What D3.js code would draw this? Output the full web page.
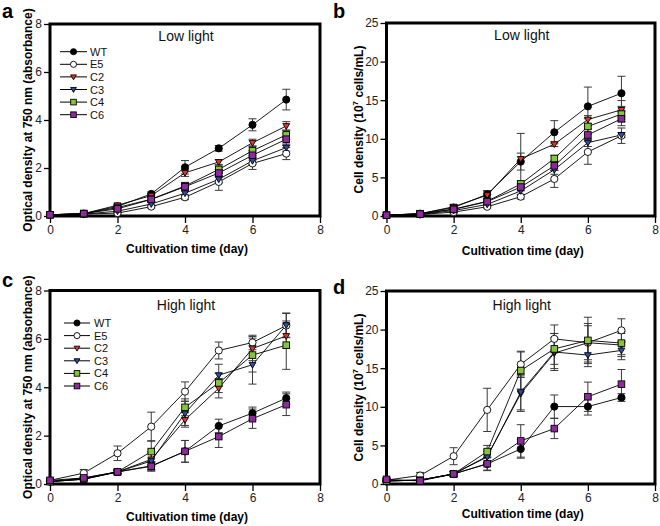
<!DOCTYPE html>
<html><head><meta charset="utf-8">
<script src="https://cdn.jsdelivr.net/npm/d3@7"></script>
<style>
body{margin:0;background:#fff;}
svg{display:block;font-family:"Liberation Sans",Arial,Helvetica,sans-serif;}
</style></head>
<body>
<svg id="chart" width="660" height="526"></svg>
<script>
// ---------- data ----------
const days = [0,1,2,3,4,5,6,7];
const seriesNames = ["WT","E5","C2","C3","C4","C6"];
const xTicks = [0,2,4,6,8];
const odTicks = [0,2,4,6,8];
const cellTicks = [0,5,10,15,20,25];

// a: Low light, optical density
const lowOD_WT = [0.05,0.1,0.4,0.92,2.03,2.82,3.8,4.85];
const lowOD_E5 = [0.05,0.08,0.12,0.39,0.78,1.42,2.19,2.6];
const lowOD_C2 = [0.05,0.1,0.45,0.85,1.8,2.25,3.05,3.75];
const lowOD_C3 = [0.05,0.08,0.2,0.5,0.95,1.53,2.3,2.85];
const lowOD_C4 = [0.05,0.1,0.35,0.7,1.25,1.94,2.72,3.38];
const lowOD_C6 = [0.05,0.1,0.3,0.69,1.22,1.79,2.53,3.2];
const lowODErr_WT = [0.02,0.03,0.08,0.08,0.28,0.12,0.25,0.43];
const lowODErr_E5 = [0.02,0.02,0.05,0.06,0.1,0.35,0.25,0.25];
const lowODErr_C2 = [0.02,0.02,0.05,0.08,0.15,0.1,0.15,0.18];
const lowODErr_C3 = [0.02,0.02,0.05,0.08,0.1,0.15,0.15,0.15];
const lowODErr_C4 = [0.02,0.02,0.05,0.08,0.15,0.15,0.2,0.2];
const lowODErr_C6 = [0.02,0.02,0.05,0.08,0.12,0.15,0.2,0.25];

// b: Low light, cell density
const lowCell_WT = [0.1,0.3,1.1,2.8,7.05,10.85,14.2,15.9];
const lowCell_E5 = [0.1,0.2,0.5,1.2,2.5,4.8,8.3,10.4];
const lowCell_C2 = [0.1,0.3,1.2,2.7,7.4,9.3,12.5,13.75];
const lowCell_C3 = [0.1,0.2,0.7,1.5,3.25,6.0,9.5,10.5];
const lowCell_C4 = [0.1,0.3,0.9,1.9,4.15,7.45,11.6,13.2];
const lowCell_C6 = [0.1,0.25,0.85,1.86,3.75,6.5,10.5,12.6];
const lowCellErr_WT = [0.05,0.1,0.3,0.5,1.1,1.5,2.5,2.2];
const lowCellErr_E5 = [0.05,0.05,0.1,0.2,0.3,1.1,1.6,1.0];
const lowCellErr_C2 = [0.05,0.1,0.3,0.5,3.3,0.3,0.5,1.2];
const lowCellErr_C3 = [0.05,0.05,0.2,0.3,0.5,0.6,0.5,0.3];
const lowCellErr_C4 = [0.05,0.1,0.2,0.4,0.4,0.4,1.0,1.0];
const lowCellErr_C6 = [0.05,0.05,0.2,0.4,0.5,0.6,0.8,0.9];

// c: High light, optical density
const highOD_WT = [0.1,0.25,0.5,0.75,1.35,2.4,2.93,3.55];
const highOD_E5 = [0.15,0.45,1.27,2.37,3.82,5.52,5.85,6.55];
const highOD_C2 = [0.1,0.2,0.5,1.02,2.65,3.96,5.6,6.12];
const highOD_C3 = [0.1,0.2,0.5,0.95,2.92,4.5,4.93,6.57];
const highOD_C4 = [0.1,0.2,0.5,1.34,3.17,4.18,5.33,5.74];
const highOD_C6 = [0.15,0.25,0.5,0.73,1.35,1.96,2.7,3.28];
const highODErr_WT = [0.05,0.05,0.08,0.15,0.45,0.28,0.25,0.25];
const highODErr_E5 = [0.05,0.15,0.3,0.6,0.4,0.35,0.3,0.5];
const highODErr_C2 = [0.05,0.05,0.08,0.3,0.3,0.4,0.5,0.5];
const highODErr_C3 = [0.05,0.05,0.08,0.4,0.5,0.45,0.8,0.5];
const highODErr_C4 = [0.05,0.05,0.08,0.45,0.35,0.4,0.7,1.0];
const highODErr_C6 = [0.05,0.05,0.08,0.2,0.45,0.45,0.4,0.45];

// d: High light, cell density
const highCell_WT = [0.4,0.5,1.3,2.6,4.54,10.03,10.03,11.2];
const highCell_E5 = [0.5,1.1,3.6,9.6,15.5,18.8,18.3,19.9];
const highCell_C2 = [0.4,0.5,1.3,3.6,11.7,16.95,18.3,18.0];
const highCell_C3 = [0.4,0.5,1.3,3.5,11.9,17.1,16.7,17.3];
const highCell_C4 = [0.4,0.5,1.3,4.2,14.7,17.5,18.6,18.25];
const highCell_C6 = [0.6,0.4,1.3,2.63,5.58,7.18,11.3,12.93];
const highCellErr_WT = [0.1,0.2,0.3,0.8,1.2,1.5,1.1,0.5];
const highCellErr_E5 = [0.2,0.4,1.1,2.8,1.7,1.8,2.2,1.5];
const highCellErr_C2 = [0.1,0.2,0.3,0.8,2.3,2.0,2.5,1.5];
const highCellErr_C3 = [0.1,0.2,0.3,0.7,2.3,2.4,1.5,1.2];
const highCellErr_C4 = [0.1,0.2,0.3,0.8,2.4,2.0,3.0,1.5];
const highCellErr_C6 = [0.2,0.2,0.3,0.9,2.1,1.3,1.9,1.9];

// ---------- styles ----------
const styles = {
  WT:{shape:"circle", fill:"#000000"},
  E5:{shape:"circle", fill:"#ffffff"},
  C2:{shape:"triDown", fill:"#e3342a"},
  C3:{shape:"triDown", fill:"#2b4fa6"},
  C4:{shape:"square", fill:"#86c53a"},
  C6:{shape:"square", fill:"#8e2a9e"}
};

const panels = [
  {letter:"a", lx:2, ly:18, title:"Low light", left:50, right:320, top:24, bottom:216, ymax:8, yTicks:odTicks, ytitle:"od", ytx:32,
   vals:[lowOD_WT,lowOD_E5,lowOD_C2,lowOD_C3,lowOD_C4,lowOD_C6],
   errs:[lowODErr_WT,lowODErr_E5,lowODErr_C2,lowODErr_C3,lowODErr_C4,lowODErr_C6],
   legend:{x1:60,x2:87,tx:90,y0:51.7,dy:12.6}, xtitleY:253},
  {letter:"b", lx:333, ly:18, title:"Low light", left:386.5, right:655, top:23, bottom:216, ymax:25, yTicks:cellTicks, ytitle:"cell", ytx:363,
   vals:[lowCell_WT,lowCell_E5,lowCell_C2,lowCell_C3,lowCell_C4,lowCell_C6],
   errs:[lowCellErr_WT,lowCellErr_E5,lowCellErr_C2,lowCellErr_C3,lowCellErr_C4,lowCellErr_C6],
   legend:null, xtitleY:255},
  {letter:"c", lx:2, ly:287, title:"High light", left:50, right:320, top:290.5, bottom:484, ymax:8, yTicks:odTicks, ytitle:"od", ytx:32,
   vals:[highOD_WT,highOD_E5,highOD_C2,highOD_C3,highOD_C4,highOD_C6],
   errs:[highODErr_WT,highODErr_E5,highODErr_C2,highODErr_C3,highODErr_C4,highODErr_C6],
   legend:{x1:64,x2:90,tx:94,y0:323,dy:12.6}, xtitleY:521},
  {letter:"d", lx:333, ly:294, title:"High light", left:386.5, right:655, top:291, bottom:484, ymax:25, yTicks:cellTicks, ytitle:"cell", ytx:363,
   vals:[highCell_WT,highCell_E5,highCell_C2,highCell_C3,highCell_C4,highCell_C6],
   errs:[highCellErr_WT,highCellErr_E5,highCellErr_C2,highCellErr_C3,highCellErr_C4,highCellErr_C6],
   legend:null, xtitleY:518}
];

const svg = d3.select("#chart");

function drawMarker(g, name, x, y, k){
  const s = styles[name];
  const f = k || 1;
  let m;
  if(s.shape==="circle"){
    m = g.append("circle").attr("cx",x).attr("cy",y).attr("r",3.6*f);
  } else if(s.shape==="square"){
    m = g.append("rect").attr("x",x-3.3*f).attr("y",y-3.3*f).attr("width",6.6*f).attr("height",6.6*f);
  } else {
    const a = 3.4*f;
    m = g.append("path").attr("d",`M${x-a},${y-a*0.7}L${x+a},${y-a*0.7}L${x},${y+a}Z`);
  }
  m.attr("fill",s.fill).attr("stroke","#000").attr("stroke-width",0.9);
}

panels.forEach(p=>{
  const g = svg.append("g");
  const x = d3.scaleLinear().domain([0,8]).range([p.left,p.right]);
  const y = d3.scaleLinear().domain([0,p.ymax]).range([p.bottom,p.top]);

  // axes
  const xa = g.append("g").attr("transform",`translate(0,${p.bottom})`)
    .call(d3.axisBottom(x).tickValues(xTicks).tickSize(7).tickSizeOuter(0).tickPadding(2).tickFormat(d3.format("d")));
  const ya = g.append("g").attr("transform",`translate(${p.left},0)`)
    .call(d3.axisLeft(y).tickValues(p.yTicks).tickSize(6).tickSizeOuter(0).tickPadding(2).tickFormat(d3.format("d")));
  [xa,ya].forEach(a=>{
    a.select(".domain").remove();
    a.selectAll("line").attr("stroke","#000").attr("stroke-width",1.3);
    a.selectAll("text").attr("font-size",12).attr("fill","#222").attr("font-family","'Liberation Sans',Arial,sans-serif");
  });

  // frame
  g.append("rect").attr("x",p.left).attr("y",p.top).attr("width",p.right-p.left).attr("height",p.bottom-p.top)
    .attr("fill","none").attr("stroke","#000").attr("stroke-width",3);

  // error bars
  const eb = g.append("g").attr("stroke","#3a3a3a").attr("stroke-width",1);
  seriesNames.forEach((n,i)=>{
    days.forEach((d,k)=>{
      const v = p.vals[i][k], e = p.errs[i][k];
      const cx = x(d), y1 = y(v+e), y2 = y(Math.max(0,v-e));
      eb.append("line").attr("x1",cx).attr("x2",cx).attr("y1",y1).attr("y2",y2);
      eb.append("line").attr("x1",cx-4).attr("x2",cx+4).attr("y1",y1).attr("y2",y1);
      eb.append("line").attr("x1",cx-4).attr("x2",cx+4).attr("y1",y2).attr("y2",y2);
    });
  });

  // lines
  const line = d3.line().x((d,k)=>x(days[k])).y(d=>y(d));
  seriesNames.forEach((n,i)=>{
    g.append("path").attr("d",line(p.vals[i])).attr("fill","none").attr("stroke","#000").attr("stroke-width",0.9);
  });
  // markers
  seriesNames.forEach((n,i)=>{
    const mg = g.append("g");
    days.forEach((d,k)=> drawMarker(mg, n, x(d), y(p.vals[i][k])));
  });

  // title in plot
  g.append("text").attr("x",(p.left+p.right)/2+1).attr("y",p.top+(p.title==="Low light"?17:19))
    .attr("text-anchor","middle").attr("font-size",14).attr("fill","#111").text(p.title);

  // legend
  if(p.legend){
    const L = p.legend;
    seriesNames.forEach((n,i)=>{
      const yy = L.y0 + i*L.dy;
      g.append("line").attr("x1",L.x1).attr("x2",L.x2).attr("y1",yy).attr("y2",yy).attr("stroke","#000").attr("stroke-width",1);
      drawMarker(g, n, (L.x1+L.x2)/2, yy, 0.85);
      g.append("text").attr("x",L.tx).attr("y",yy+4).attr("font-size",11).attr("fill","#111").text(n);
    });
  }

  // x title
  g.append("text").attr("x",(p.left+p.right)/2+2).attr("y",p.xtitleY).attr("text-anchor","middle")
    .attr("font-size",12).attr("font-weight","bold").text("Cultivation time (day)");

  // y title
  const cy = (p.top+p.bottom)/2;
  const yt = g.append("text").attr("transform",`translate(${p.ytx},${cy}) rotate(-90)`)
    .attr("text-anchor","middle").attr("font-size",12).attr("font-weight","bold");
  if(p.ytitle==="od"){
    yt.text("Optical density at 750 nm (absorbance)");
  } else {
    yt.append("tspan").text("Cell density (10");
    yt.append("tspan").attr("font-size",8).attr("dy",-5).text("7");
    yt.append("tspan").attr("dy",5).text(" cells/mL)");
  }

  // panel letter
  g.append("text").attr("x",p.lx).attr("y",p.ly).attr("font-size",20).attr("font-weight","bold").text(p.letter);
});
</script>
</body></html>
